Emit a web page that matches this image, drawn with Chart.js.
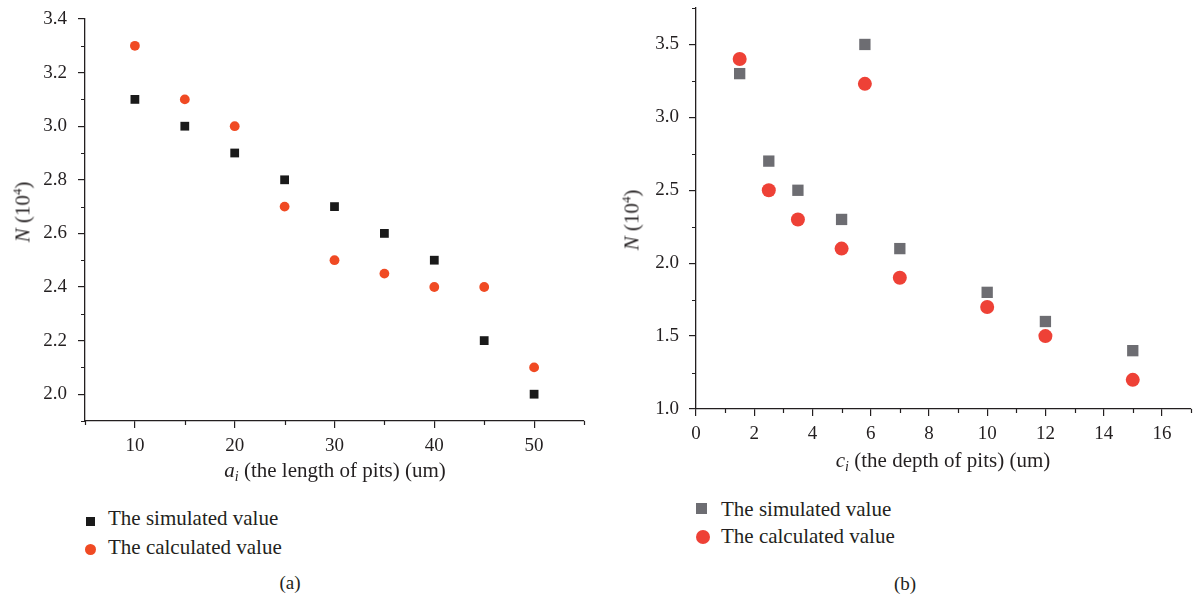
<!DOCTYPE html>
<html>
<head>
<meta charset="utf-8">
<script src="https://cdn.jsdelivr.net/npm/chart.js@4.4.0/dist/chart.umd.min.js"></script>
<style>
  body { margin: 0; background: #fff; width: 1199px; height: 601px; overflow: hidden; position: relative; font-family: "Liberation Serif", "DejaVu Serif", serif; color: #231f20; }
  canvas { position: absolute; }
  .txt { position: absolute; white-space: nowrap; font-size: 21px; line-height: 1; }
  .ytitle { transform: translate(-50%, -50%) rotate(-90deg); }
  .xtitle { transform: translate(-50%, -50%); }
  .leg { position: absolute; white-space: nowrap; font-size: 21px; line-height: 1; }
  .mk { position: absolute; }
  sup { font-size: 13px; vertical-align: 8px; }
  sub { font-size: 14px; vertical-align: -4px; }
</style>
</head>
<body>
<canvas id="chartA" width="600" height="461" style="left:0;top:0"></canvas>
<canvas id="chartB" width="589" height="449" style="left:610px;top:0"></canvas>

<div class="txt ytitle" style="left:22px;top:212px"><i>N</i> (10<sup>4</sup>)</div>
<div class="txt xtitle" style="left:335px;top:472px"><i>a</i><sub><i>i</i></sub> (the length of pits) (um)</div>
<div class="txt ytitle" style="left:631px;top:220px"><i>N</i> (10<sup>4</sup>)</div>
<div class="txt xtitle" style="left:943px;top:462px"><i>c</i><sub><i>i</i></sub> (the depth of pits) (um)</div>

<div class="mk" style="left:86px;top:517px;width:9px;height:9px;background:#1a1a1a"></div>
<div class="leg" style="left:108px;top:508px">The simulated value</div>
<div class="mk" style="left:85px;top:544px;width:11px;height:11px;border-radius:50%;background:#f04a23"></div>
<div class="leg" style="left:108px;top:537px">The calculated value</div>

<div class="mk" style="left:696px;top:503px;width:11px;height:11px;background:#6d6d72"></div>
<div class="leg" style="left:721px;top:499px">The simulated value</div>
<div class="mk" style="left:696px;top:530px;width:14px;height:14px;border-radius:50%;background:#ee4136"></div>
<div class="leg" style="left:721px;top:526px">The calculated value</div>

<div class="txt xtitle" style="left:290px;top:582px;font-size:19px">(a)</div>
<div class="txt xtitle" style="left:905px;top:583px;font-size:19px">(b)</div>

<script>
// (a) length of pits
const lengthX = [10, 15, 20, 25, 30, 35, 40, 45, 50];
const lengthSimulated = [3.1, 3.0, 2.9, 2.8, 2.7, 2.6, 2.5, 2.2, 2.0];
const lengthCalculated = [3.3, 3.1, 3.0, 2.7, 2.5, 2.45, 2.4, 2.4, 2.1];
const aXTicks = [10, 20, 30, 40, 50];
const aXMinor = [5, 15, 25, 35, 45, 55];
const aYTicks = [2.0, 2.2, 2.4, 2.6, 2.8, 3.0, 3.2, 3.4];
const aYMinor = [1.9, 2.1, 2.3, 2.5, 2.7, 2.9, 3.1, 3.3];

// (b) depth of pits
const depthX = [1.5, 2.5, 3.5, 5, 5.8, 7, 10, 12, 15];
const depthSimulated = [3.3, 2.7, 2.5, 2.3, 3.5, 2.1, 1.8, 1.6, 1.4];
const depthCalculated = [3.4, 2.5, 2.3, 2.1, 3.23, 1.9, 1.7, 1.5, 1.2];
const bXTicks = [0, 2, 4, 6, 8, 10, 12, 14, 16];
const bXMinor = [1, 3, 5, 7, 9, 11, 13, 15, 17];
const bYTicks = [1.0, 1.5, 2.0, 2.5, 3.0, 3.5];
const bYMinor = [1.25, 1.75, 2.25, 2.75, 3.25, 3.75];

const axisColor = '#231f20';

// short minor tick marks
const minorTicks = {
    id: 'minorTicks',
    afterDraw(chart, args, opts) {
        const ctx = chart.ctx;
        const xs = chart.scales.x, ys = chart.scales.y;
        ctx.save();
        ctx.strokeStyle = axisColor;
        ctx.lineWidth = 1.2;
        ctx.beginPath();
        opts.x.forEach(v => {
            const px = Math.round(xs.getPixelForValue(v)) + 0.5;
            ctx.moveTo(px, xs.top);
            ctx.lineTo(px, xs.top + 4);
        });
        opts.y.forEach(v => {
            const py = Math.round(ys.getPixelForValue(v)) + 0.5;
            ctx.moveTo(ys.right, py);
            ctx.lineTo(ys.right - 4, py);
        });
        ctx.stroke();
        ctx.restore();
    }
};

function toPoints(xs, ys) {
    return xs.map((x, i) => ({ x: x, y: ys[i] }));
}

function axis(min, max, ticks, digits, size, pad) {
    return {
        type: 'linear',
        min: min,
        max: max,
        afterBuildTicks: s => { s.ticks = ticks.map(v => ({ value: v })); },
        afterFit: s => {
            if (s.isHorizontal()) s.height = size; else s.width = size;
            s.paddingTop = 0; s.paddingBottom = 0; s.paddingLeft = 0; s.paddingRight = 0;
        },
        grid: { display: true, drawOnChartArea: false, drawTicks: true, tickLength: 7, color: axisColor, lineWidth: 1.2 },
        border: { display: true, color: axisColor, width: 1.3 },
        ticks: {
            color: axisColor,
            padding: pad,
            maxRotation: 0,
            autoSkip: false,
            font: { family: "'Liberation Serif', 'DejaVu Serif', serif", size: 19 },
            callback: v => v.toFixed(digits)
        }
    };
}

function makeChart(id, xs, sim, calc, cfg) {
    const ctx = document.getElementById(id).getContext('2d');
    return new Chart(ctx, {
        type: 'scatter',
        data: {
            datasets: [{
                label: 'The simulated value',
                data: toPoints(xs, sim),
                pointStyle: 'rect',
                pointRadius: cfg.sqR,
                pointBorderWidth: 0,
                backgroundColor: cfg.sqColor,
                borderColor: cfg.sqColor
            }, {
                label: 'The calculated value',
                data: toPoints(xs, calc),
                pointStyle: 'circle',
                pointRadius: cfg.ciR,
                pointBorderWidth: 0,
                backgroundColor: cfg.ciColor,
                borderColor: cfg.ciColor
            }]
        },
        options: {
            responsive: false,
            animation: false,
            devicePixelRatio: 1,
            layout: { padding: cfg.padding },
            plugins: {
                legend: { display: false },
                tooltip: { enabled: false },
                minorTicks: { x: cfg.xMinor, y: cfg.yMinor }
            },
            scales: {
                x: axis(cfg.xMin, cfg.xMax, cfg.xTicks, 0, 40, cfg.xPad),
                y: axis(cfg.yMin, cfg.yMax, cfg.yTicks, 1, cfg.yWidth, cfg.yPad)
            }
        },
        plugins: [minorTicks]
    });
}

makeChart('chartA', lengthX, lengthSimulated, lengthCalculated, {
    sqR: 6.2, ciR: 4.9, sqColor: '#1a1a1a', ciColor: '#f04a23',
    padding: { left: 0, top: 19, right: 16, bottom: 0 },
    xMin: 5, xMax: 55, xTicks: aXTicks, xMinor: aXMinor, xPad: 7,
    yMin: 1.9, yMax: 3.4, yTicks: aYTicks, yMinor: aYMinor, yWidth: 85, yPad: 11
});

makeChart('chartB', depthX, depthSimulated, depthCalculated, {
    sqR: 8.0, ciR: 7.0, sqColor: '#6d6d72', ciColor: '#ee4136',
    padding: { left: 0, top: 6, right: 5, bottom: 0 },
    xMin: 0, xMax: 17, xTicks: bXTicks, xMinor: bXMinor, xPad: 7,
    yMin: 1.0, yMax: 3.75, yTicks: bYTicks, yMinor: bYMinor, yWidth: 86, yPad: 10
});
</script>
</body>
</html>
